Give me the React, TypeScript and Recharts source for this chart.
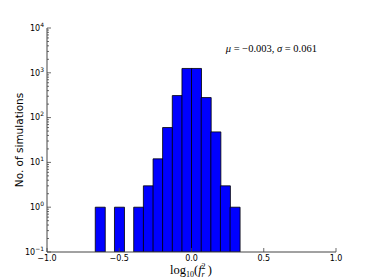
import { ComposedChart, Bar, XAxis, YAxis, Customized } from "recharts";

// histogram bins (centres of 1/15-wide bins) and counts
const binCenters = [
  -0.633, -0.567, -0.5, -0.433, -0.367, -0.3, -0.233, -0.167, -0.1, -0.033,
  0.033, 0.1, 0.167, 0.233, 0.3,
];
const counts = [1, 0, 1, 0, 1, 3, 12, 60, 310, 1250, 1250, 280, 48, 3, 1];

const xTicks = [-1, -0.5, 0, 0.5, 1];
const yMajorTicks = [0.1, 1, 10, 100, 1000, 10000];
const yMinorSteps = [2, 3, 4, 5, 6, 7, 8, 9];

const data = binCenters
  .map((x, i) => ({ x, count: counts[i] }))
  .filter((d) => d.count > 0);

const yTicks = [
  ...yMajorTicks,
  ...yMajorTicks.slice(0, -1).flatMap((d) => yMinorSteps.map((k) => d * k)),
].sort((a, b) => a - b);

const W = 374;
const H = 280;
const TM = 3; // tick margin
const FRAME = "#444";
const SANS = "'DejaVu Sans', sans-serif";
const SERIF = "'Liberation Serif', serif";

const isMajor = (v: number) =>
  Math.abs(Math.log10(v) - Math.round(Math.log10(v))) < 1e-6;

const fmtX = (v: number) => v.toFixed(1).replace("-", "\u2212");

const LeftTick = ({ x, y, payload }: any) => {
  const v = payload.value;
  const ax = x + TM;
  const major = isMajor(v);
  const exp = Math.round(Math.log10(v));
  return (
    <g>
      <line x1={ax} x2={ax + (major ? 4 : 2)} y1={y} y2={y} stroke={FRAME} strokeWidth={0.8} />
      {major && (
        <text x={x} y={y} dy="0.35em" textAnchor="end" fontFamily={SANS} fontSize={8} fill="#000">
          10
          <tspan dy={-4} fontSize={6}>
            {String(exp).replace("-", "\u2212")}
          </tspan>
        </text>
      )}
    </g>
  );
};

const RightTick = ({ x, y, payload }: any) => {
  const ax = x - TM;
  const major = isMajor(payload.value);
  return <line x1={ax} x2={ax - (major ? 4 : 2)} y1={y} y2={y} stroke={FRAME} strokeWidth={0.8} />;
};

const BottomTick = ({ x, y, payload }: any) => {
  const ay = y - TM;
  return (
    <g>
      <line x1={x} x2={x} y1={ay} y2={ay - 4} stroke={FRAME} strokeWidth={0.8} />
      <text x={x} y={y} dy="0.78em" textAnchor="middle" fontFamily={SANS} fontSize={8} fill="#000">
        {fmtX(payload.value)}
      </text>
    </g>
  );
};

const TopTick = ({ x, y }: any) => {
  const ay = y + TM;
  return <line x1={x} x2={x} y1={ay} y2={ay + 4} stroke={FRAME} strokeWidth={0.8} />;
};

const Labels = () => (
  <g>
    <text
      transform="translate(23,140) rotate(-90)"
      textAnchor="middle"
      fontFamily={SANS}
      fontSize={10.5}
      fill="#000"
    >
      No. of simulations
    </text>
    <text x={317} y={52} textAnchor="end" fontFamily={SERIF} fontSize={10.5} fill="#000">
      <tspan fontStyle="italic">μ</tspan>
      {" = \u22120.003, "}
      <tspan fontStyle="italic">σ</tspan>
      {" = 0.061"}
    </text>
    <text x={191} y={274} textAnchor="middle" fontFamily={SERIF} fontSize={12.5} fill="#000">
      log
      <tspan fontSize={8} dy={3}>10</tspan>
      <tspan dy={-3}>(</tspan>
      <tspan fontStyle="italic">f</tspan>
      <tspan fontSize={8} dy={-5}>2</tspan>
      <tspan fontSize={8} fontStyle="italic" dx={-4} dy={8}>r</tspan>
      <tspan dy={-3}>{"\u00a0)"}</tspan>
    </text>
  </g>
);

export default function App() {
  return (
    <div style={{ position: "absolute", left: 0, top: 0, width: W, height: H, background: "#fff" }}>
      <ComposedChart
        width={W}
        height={H}
        data={data}
        margin={{ top: 28, right: 38, bottom: 0, left: 0 }}
        barCategoryGap={0}
        barGap={0}
      >
        <XAxis
          dataKey="x"
          type="number"
          domain={[-1, 1]}
          ticks={xTicks}
          allowDataOverflow
          height={28}
          tickSize={0}
          tickMargin={TM}
          tickLine={false}
          interval={0}
          axisLine={{ stroke: FRAME, strokeWidth: 1 }}
          tick={<BottomTick />}
        />
        <XAxis
          xAxisId="top"
          orientation="top"
          type="number"
          domain={[-1, 1]}
          ticks={xTicks}
          allowDataOverflow
          height={0}
          tickSize={0}
          tickMargin={TM}
          tickLine={false}
          interval={0}
          axisLine={{ stroke: FRAME, strokeWidth: 1 }}
          tick={<TopTick />}
        />
        <YAxis
          type="number"
          scale="log"
          domain={[0.1, 10000]}
          ticks={yTicks}
          allowDataOverflow
          width={47}
          tickSize={0}
          tickMargin={TM}
          tickLine={false}
          interval={0}
          axisLine={{ stroke: FRAME, strokeWidth: 1 }}
          tick={<LeftTick />}
        />
        <YAxis
          yAxisId="right"
          orientation="right"
          type="number"
          scale="log"
          domain={[0.1, 10000]}
          ticks={yTicks}
          allowDataOverflow
          width={0}
          tickSize={0}
          tickMargin={TM}
          tickLine={false}
          interval={0}
          axisLine={{ stroke: FRAME, strokeWidth: 1 }}
          tick={<RightTick />}
        />
        <Bar
          dataKey="count"
          fill="#0000ff"
          stroke="#000"
          strokeWidth={0.8}
          isAnimationActive={false}
        />
        <Customized component={Labels} />
      </ComposedChart>
    </div>
  );
}
